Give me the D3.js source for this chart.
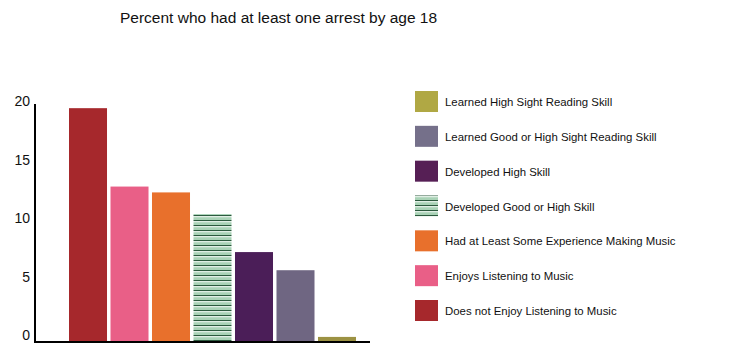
<!DOCTYPE html>
<html><head><meta charset="utf-8">
<script src="https://cdn.jsdelivr.net/npm/d3@7"></script>
<style>body{margin:0;background:#fff}svg{display:block}text{font-family:"Liberation Sans",Arial,sans-serif}</style>
</head><body><svg id="c" width="735" height="345"></svg>
<script>
const categories = ["Does not Enjoy Listening to Music","Enjoys Listening to Music","Had at Least Some Experience Making Music","Developed Good or High Skill","Developed High Skill","Learned Good or High Sight Reading Skill","Learned High Sight Reading Skill"];
const values = [19.9, 13.2, 12.7, 10.85, 7.6, 6.05, 0.35];
const colors = ["#a6282c","#e95f87","#e8702c","url(#stripes)","#4b1e58","#6f6682","#9c9243"];
const legendColors = ["#a6282c","#e95f87","#e8702c","url(#stripes)","#561f55","#75708a","#b0a844"];
const yTicks = [0,5,10,15,20];
const title = "Percent who had at least one arrest by age 18";

const svg = d3.select("#c");
const defs = svg.append("defs");
const pat = defs.append("pattern").attr("id","stripes").attr("patternUnits","userSpaceOnUse").attr("width",8).attr("height",5);
pat.append("rect").attr("width",8).attr("height",5).attr("fill","#a9d2b6");
pat.append("rect").attr("y",0).attr("width",8).attr("height",1.2).attr("fill","#2c5a3e");
pat.append("rect").attr("y",1.2).attr("width",8).attr("height",1).attr("fill","#f4fbf6");

const y = d3.scaleLinear().domain([0,20]).range([341,107]);
const x = d3.scaleBand().domain(categories).range([69,356]).paddingInner(0.084).paddingOuter(0);

svg.append("text").attr("x",120).attr("y",23).attr("font-size",15.5).attr("fill","#111").text(title);

svg.selectAll("rect.bar").data(categories).join("rect").attr("class","bar")
  .attr("x",d=>x(d)).attr("width",x.bandwidth())
  .attr("y",(d,i)=>y(values[i])).attr("height",(d,i)=>y(0)-y(values[i]))
  .attr("fill",(d,i)=>colors[i]);

const yAxis = d3.axisLeft(y).tickValues(yTicks).tickSize(0).tickPadding(5);
const ga = svg.append("g").attr("transform","translate(35,0)").call(yAxis);
ga.select(".domain").attr("stroke","#000").attr("stroke-width",2).attr("d","M0,104V342");
ga.selectAll("text").attr("font-size",14).attr("fill","#111").attr("font-family","Liberation Sans, Arial, sans-serif").attr("dy","-0.1em");

svg.append("line").attr("x1",34).attr("x2",370).attr("y1",y(0)+1).attr("y2",y(0)+1).attr("stroke","#000").attr("stroke-width",2);

const legendOrder = d3.range(categories.length).reverse();
const ly = d3.scalePoint().domain(legendOrder).range([101,310]);
const lg = svg.append("g");
lg.selectAll("rect").data(legendOrder).join("rect")
  .attr("x",415).attr("width",23).attr("y",i=>ly(i)-10).attr("height",21)
  .attr("fill",i=>legendColors[i]);
lg.selectAll("text").data(legendOrder).join("text")
  .attr("x",445).attr("y",i=>ly(i)+5).attr("font-size",11.4).attr("fill","#111")
  .text(i=>categories[i]);
</script></body></html>
